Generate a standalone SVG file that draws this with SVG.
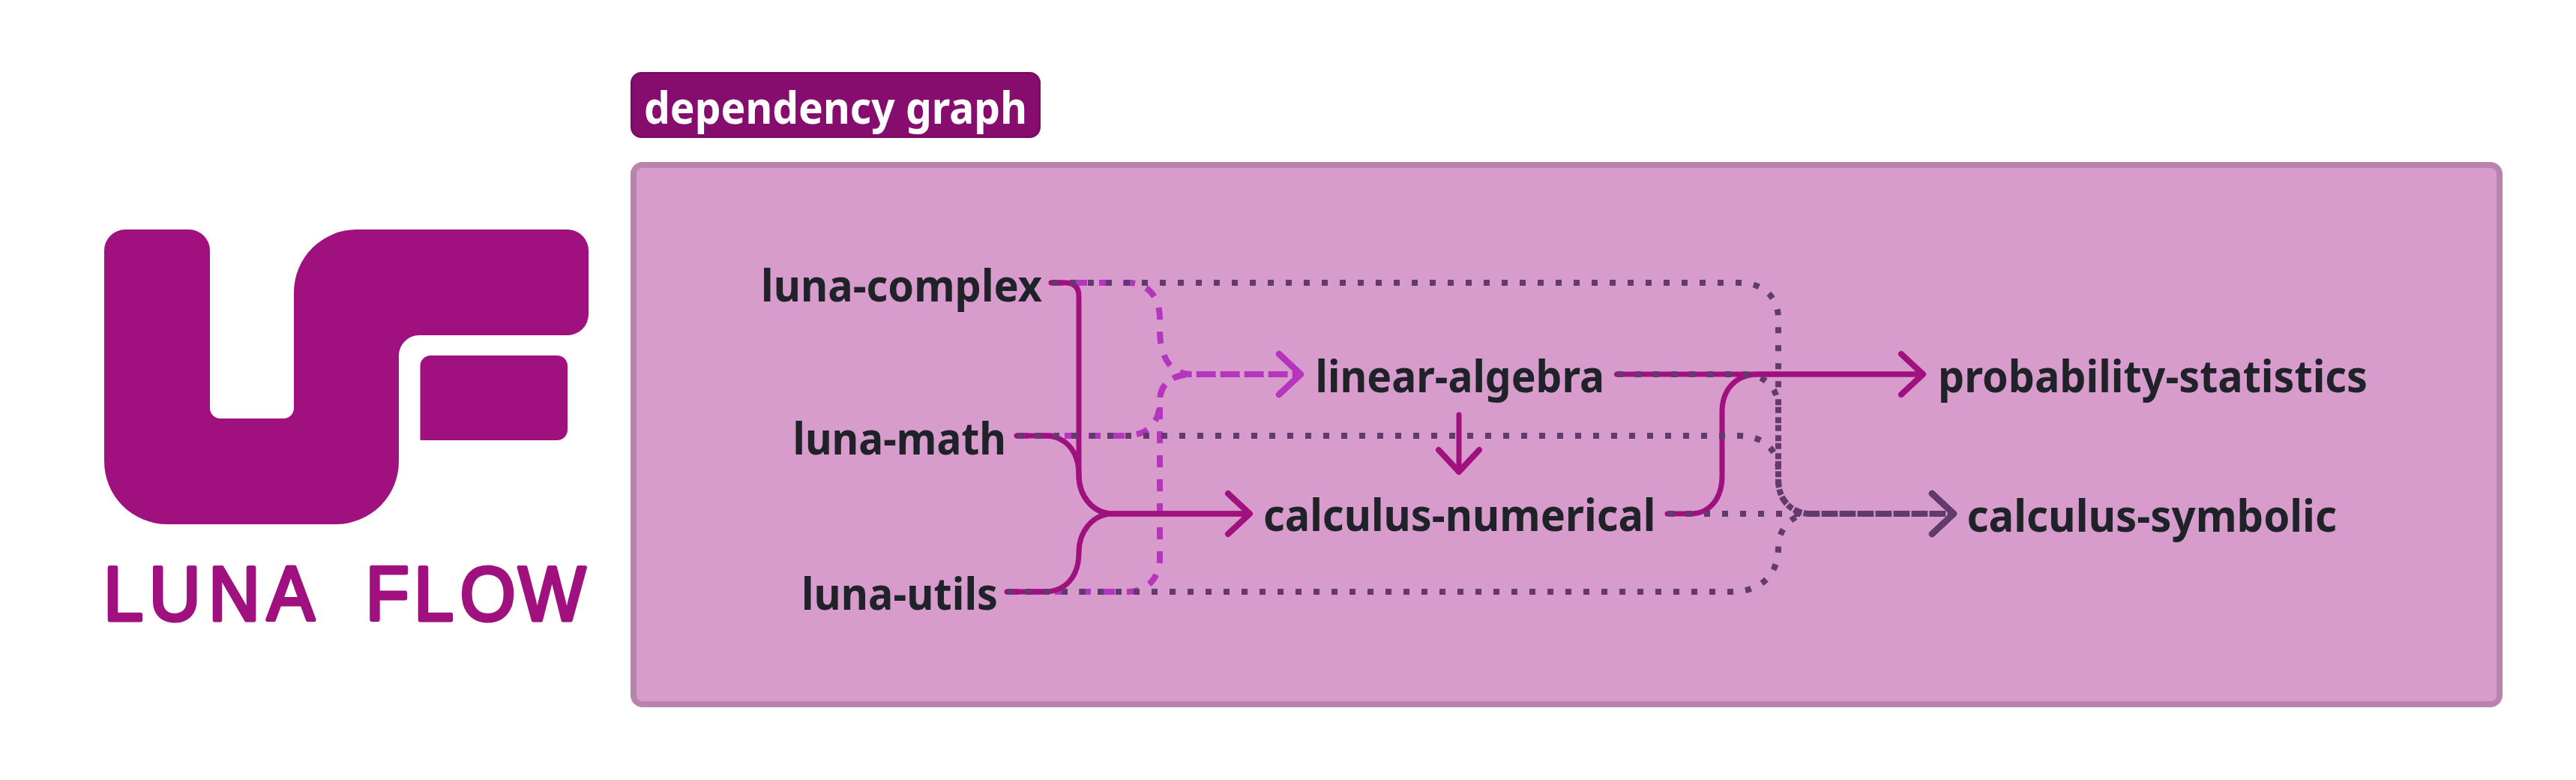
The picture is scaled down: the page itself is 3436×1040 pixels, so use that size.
<svg xmlns="http://www.w3.org/2000/svg" width="3436" height="1040" viewBox="0 0 3436 1040">
<style>
.n{font-family:"Noto Sans","Open Sans",sans-serif;font-weight:700;font-size:60px;fill:#1f2329}
.t{font-family:"Noto Sans","Open Sans",sans-serif;font-weight:700;font-size:60px;fill:#fff}
.e{fill:none;stroke-width:8}
.s{stroke:#a0117f;stroke-width:7;stroke-linecap:round}
.d{stroke:#b535be;stroke-dasharray:16 16}
.o{stroke:#633a6e;stroke-dasharray:8 16}
.h{fill:none;stroke-width:8;stroke-linecap:round;stroke-linejoin:round}
</style>
<defs>
<marker id="as" markerUnits="userSpaceOnUse" orient="auto" overflow="visible" markerWidth="40" markerHeight="60" refX="0" refY="0"><path class="h" stroke="#a0117f" d="M-29-27L0 0L-29 27"/></marker>
<marker id="ad" markerUnits="userSpaceOnUse" orient="auto" overflow="visible" markerWidth="40" markerHeight="60" refX="0" refY="0"><path class="h" stroke="#b535be" d="M-29-27L0 0L-29 27"/></marker>
<marker id="ao" markerUnits="userSpaceOnUse" orient="auto" overflow="visible" markerWidth="40" markerHeight="60" refX="0" refY="0"><path class="h" stroke="#633a6e" d="M-29-27L0 0L-29 27"/></marker>
</defs>
<rect width="3436" height="1040" fill="#fff"/>
<g id="logo" fill="#a0117f">
<path d="M167 306H252A28 28 0 0 1 280 334V544A14 14 0 0 0 294 558H378A14 14 0 0 0 392 544V390A84 84 0 0 1 476 306H757A28 28 0 0 1 785 334V419A28 28 0 0 1 757 447H559A27 27 0 0 0 532 474V615A84 84 0 0 1 448 699H223A84 84 0 0 1 139 615V334A28 28 0 0 1 167 306Z"/>
<path d="M574.500 474H743A14 14 0 0 1 757 488V573A14 14 0 0 1 743 587H560.500V488A14 14 0 0 1 574.500 474Z"/>
<text transform="scale(0.93 1)" x="148.600 214 299.100 383 430 524.400 593.800 660 743.500" y="827.500" font-family="Liberation Sans, Arial, sans-serif" font-size="102" stroke="#a0117f" stroke-width="5" stroke-linejoin="round">LUNA FLOW</text>
</g>
<g id="dependency-graph">
<rect x="845" y="220" width="2489" height="719" rx="12" fill="#d89ccc" stroke="#b884ad" stroke-width="8"/>
<rect x="842.500" y="97.500" width="544" height="85" rx="13" fill="#860d6d" stroke="#7a0c63" stroke-width="3"/>
<text class="t" x="859" y="165" textLength="511" lengthAdjust="spacingAndGlyphs">dependency graph</text>
</g>
<g id="connectors" class="edges">
<path class="e d" marker-end="url(#ad)" d="M1402 377H1505C1530 377 1547 395 1547 425V440C1547 475 1560 499 1590 499H1735"/>
<path class="e d" marker-end="url(#ad)" d="M1356 581H1500C1530 581 1547 565 1547 535C1547 515 1560 499 1590 499H1735"/>
<path class="e d" marker-end="url(#ad)" d="M1343 789H1505C1530 789 1547 770 1547 745V535C1547 515 1560 499 1590 499H1735"/>
<path class="e s" d="M1402 377H1421Q1439 377 1439 395V633C1439 662 1458 685 1485 685H1667" marker-end="url(#as)"/>
<path class="e s" d="M1356 581H1393C1420 581 1439 600 1439 633C1439 662 1458 685 1485 685H1667"/>
<path class="e s" d="M1343 789H1393C1420 789 1439 770 1439 737C1439 708 1458 685 1485 685H1667"/>
<path class="e s" d="M1946 553V629" marker-end="url(#as)"/>
<path class="e s" d="M2156.500 499H2565" marker-end="url(#as)"/>
<path class="e s" d="M2224 685H2255C2280 685 2297 665 2297 635V549C2297 520 2315 499 2345 499H2565"/>
<path class="e o" marker-end="url(#ao)" d="M1403 377H2321C2350 377 2372 395 2372 425V640C2372 665 2388 685 2415 685H2606"/>
<path class="e o" marker-end="url(#ao)" d="M1357 581H2320C2350 581 2372 598 2372 628V640C2372 665 2388 685 2415 685H2606"/>
<path class="e o" marker-end="url(#ao)" d="M1344 789H2310C2350 789 2372 765 2372 730C2372 705 2390 685 2415 685H2606"/>
<path class="e o" marker-end="url(#ao)" d="M2157 499H2325C2352 499 2372 515 2372 545V640C2372 665 2388 685 2415 685H2606"/>
<path class="e o" marker-end="url(#ao)" d="M2225 685H2606"/>
</g>
<g id="luna-complex"><text class="n" x="1015" y="402" textLength="375" lengthAdjust="spacingAndGlyphs">luna-complex</text></g>
<g id="luna-math"><text class="n" x="1057.500" y="606" textLength="284.500" lengthAdjust="spacingAndGlyphs">luna-math</text></g>
<g id="luna-utils"><text class="n" x="1069" y="813" textLength="262" lengthAdjust="spacingAndGlyphs">luna-utils</text></g>
<g id="linear-algebra"><text class="n" x="1754.500" y="523" textLength="385.500" lengthAdjust="spacingAndGlyphs">linear-algebra</text></g>
<g id="calculus-numerical"><text class="n" x="1685" y="708" textLength="523.500" lengthAdjust="spacingAndGlyphs">calculus-numerical</text></g>
<g id="probability-statistics"><text class="n" x="2585" y="522.500" textLength="573" lengthAdjust="spacingAndGlyphs">probability-statistics</text></g>
<g id="calculus-symbolic"><text class="n" x="2623.500" y="708.500" textLength="493.500" lengthAdjust="spacingAndGlyphs">calculus-symbolic</text></g>
</svg>
